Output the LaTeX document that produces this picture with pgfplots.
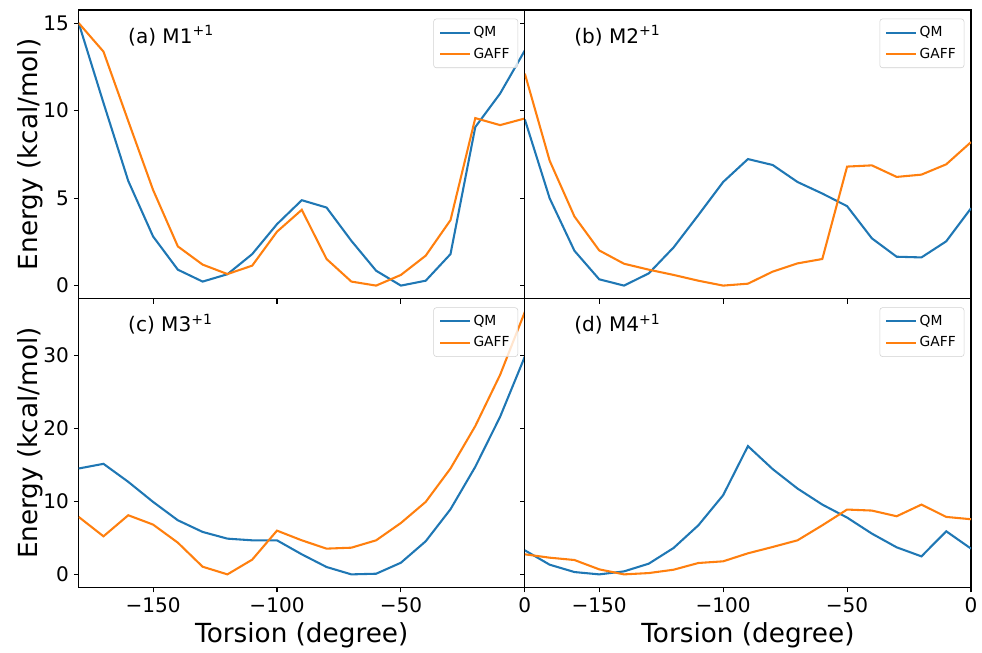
\documentclass[border=0pt]{standalone}
\usepackage{fontspec}
\setmainfont{DejaVu Sans}
\usepackage{pgfplots}
\usepackage{pgfplotstable}
\pgfplotsset{compat=1.18}
\usepgfplotslibrary{groupplots}

\definecolor{qm}{HTML}{1F77B4}
\definecolor{gaff}{HTML}{FF7F0E}

% torsion scans, energies in kcal/mol
\pgfplotstableread{
x     qm     gaff
-180  15.00  15.00
-170  10.44  13.37
-160  5.98   9.40
-150  2.81   5.47
-140  0.91   2.24
-130  0.23   1.20
-120  0.65   0.66
-110  1.80   1.14
-100  3.51   3.08
-90   4.88   4.33
-80   4.46   1.52
-70   2.56   0.23
-60   0.85   0.00
-50   0.00   0.61
-40   0.28   1.71
-30   1.80   3.74
-20   9.06   9.57
-10   10.97  9.17
0     13.44  9.55
}\mone
\pgfplotstableread{
x     qm     gaff
-180  9.49   12.11
-170  4.99   7.14
-160  1.99   3.95
-150  0.36   2.01
-140  0.00   1.25
-130  0.70   0.91
-120  2.18   0.61
-110  4.03   0.28
-100  5.92   0.00
-90   7.23   0.11
-80   6.89   0.80
-70   5.92   1.27
-60   5.26   1.52
-50   4.54   6.80
-40   2.70   6.87
-30   1.65   6.21
-20   1.61   6.34
-10   2.53   6.93
0     4.42   8.20
}\mtwo
\pgfplotstableread{
x     qm     gaff
-180  14.52  7.88
-170  15.16  5.22
-160  12.69  8.11
-150  9.94   6.83
-140  7.42   4.35
-130  5.82   1.05
-120  4.90   0.00
-110  4.67   2.02
-100  4.67   6.00
-90   2.75   4.67
-80   1.01   3.53
-70   0.00   3.66
-60   0.09   4.67
-50   1.60   7.05
-40   4.54   9.94
-30   8.93   14.52
-20   14.75  20.34
-10   21.60  27.35
0     29.87  36.00
}\mthree
\pgfplotstableread{
x     qm     gaff
-180  3.30   2.75
-170  1.33   2.29
-160  0.32   1.97
-150  0.00   0.69
-140  0.41   0.00
-130  1.47   0.18
-120  3.62   0.64
-110  6.73   1.56
-100  10.86  1.79
-90   17.59  2.89
-80   14.43  3.76
-70   11.77  4.67
-60   9.57   6.73
-50   7.79   8.89
-40   5.59   8.75
-30   3.71   7.97
-20   2.47   9.57
-10   5.91   7.88
0     3.53   7.56
}\mfour

\tikzset{tag/.style={anchor=base west, font=\fontsize{14.5}{17}\selectfont}}

\pgfplotsset{
  panel/.style={
    scale only axis, width=322.6pt, height=208.8pt,
    xmin=-180, xmax=0,
    xtick={-150,-100,-50,0},
    xticklabels={−150,−100,−50,0},
    tick align=outside, xtick pos=bottom, ytick pos=left,
    major tick length=3.5pt,
    every tick/.style={black, line width=0.8pt},
    axis line style={line width=0.8pt},
    tick label style={font=\fontsize{14.5}{16}\selectfont},
    /pgf/number format/assume math mode=true,
    every axis y label/.style={at={(rel axis cs:0,0.5)}, xshift=-35.3pt, rotate=90, anchor=center, font=\fontsize{19}{22}\selectfont},
    every axis x label/.style={at={(rel axis cs:0.5,0)}, yshift=-34.6pt, anchor=center, font=\fontsize{19}{22}\selectfont},
    legend style={at={(0.985,0.97)}, anchor=north east, draw=black!18,
      rounded corners=2pt, font=\fontsize{10}{12}\selectfont,
      fill=white, fill opacity=0.8, text opacity=1,
      inner xsep=4pt, inner ysep=3.5pt, row sep=2.5pt},
    legend cell align=left,
    legend image code/.code={\draw[##1] (0cm,0cm) -- (0.75cm,0cm);},
  },
  top/.style={ymin=-0.75, ymax=15.75, ytick={0,5,10,15}},
  bot/.style={ymin=-1.8, ymax=37.8, ytick={0,10,20,30}},
  qmline/.style={qm, line width=1.5pt},
  gaffline/.style={gaff, line width=1.5pt},
}

\begin{document}
\begin{tikzpicture}
\begin{groupplot}[group style={group size=2 by 2, horizontal sep=0pt, vertical sep=0pt}, panel]
\nextgroupplot[top, xticklabels={}, ylabel={Energy (kcal/mol)}]
\addplot[qmline] table[x=x, y=qm] {\mone};
\addplot[gaffline] table[x=x, y=gaff] {\mone};
\legend{QM, GAFF}
\node[tag] at (rel axis cs:0.1,0.885) {(a) M1\textsuperscript{+1}};
\nextgroupplot[top, xticklabels={}, yticklabels={}]
\addplot[qmline] table[x=x, y=qm] {\mtwo};
\addplot[gaffline] table[x=x, y=gaff] {\mtwo};
\legend{QM, GAFF}
\node[tag] at (rel axis cs:0.1,0.885) {(b) M2\textsuperscript{+1}};
\nextgroupplot[bot, ylabel={Energy (kcal/mol)}, xlabel={Torsion (degree)}]
\addplot[qmline] table[x=x, y=qm] {\mthree};
\addplot[gaffline] table[x=x, y=gaff] {\mthree};
\legend{QM, GAFF}
\node[tag] at (rel axis cs:0.1,0.885) {(c) M3\textsuperscript{+1}};
\nextgroupplot[bot, yticklabels={}, xlabel={Torsion (degree)}]
\addplot[qmline] table[x=x, y=qm] {\mfour};
\addplot[gaffline] table[x=x, y=gaff] {\mfour};
\legend{QM, GAFF}
\node[tag] at (rel axis cs:0.1,0.885) {(d) M4\textsuperscript{+1}};
\end{groupplot}
\path ([xshift=-56.9pt,yshift=-45.4pt]group c1r2.south west) rectangle ([xshift=5pt,yshift=7.2pt]group c2r1.north east);
\end{tikzpicture}
\end{document}
